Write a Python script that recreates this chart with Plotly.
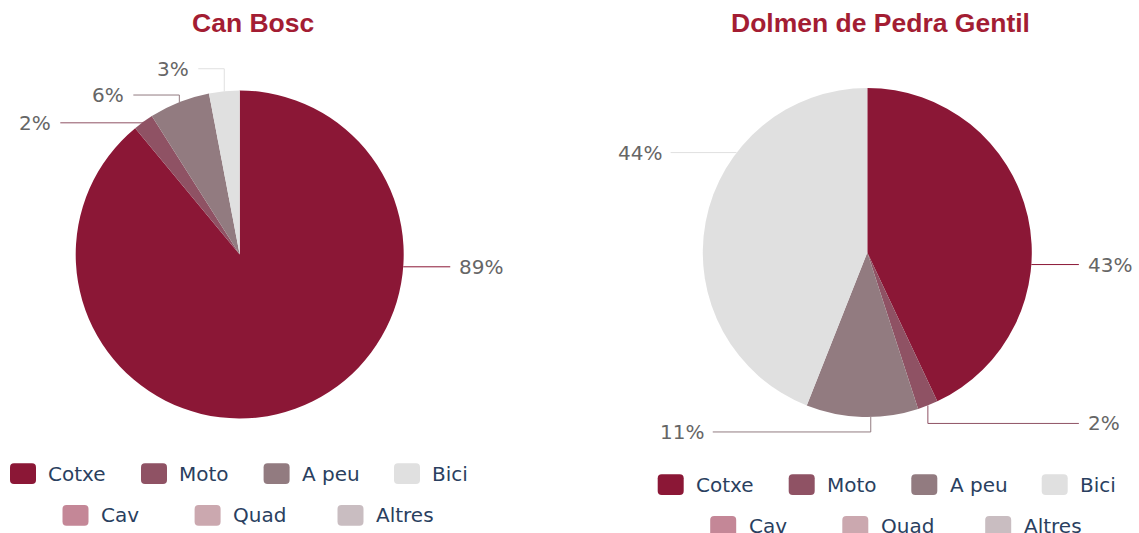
import math
import plotly.graph_objects as go

W, H = 1139, 533

# ---------------- data ----------------
categories = ["Cotxe", "Moto", "A peu", "Bici", "Cav", "Quad", "Altres"]
can_bosc = [89, 2, 6, 3, 0, 0, 0]
dolmen = [43, 2, 11, 44, 0, 0, 0]
titles = ["Can Bosc", "Dolmen de Pedra Gentil"]

# ---------------- style ----------------
colors = ["#8b1736", "#8f5264", "#927b80", "#e0e0e0", "#c48797", "#cba8af", "#c9bdc1"]
title_color = "#a31d33"
label_color = "#666666"
legend_color = "#2a3f5f"
label_font = "Verdana, DejaVu Sans, sans-serif"
title_font = "Arial, Liberation Sans, sans-serif"

# geometry (pixels) for each pie panel; label specs per slice:
# (anchor angle override or None -> slice mid angle, vertical offset,
#  signed horizontal length: + goes right, - goes left)
panels = [
    dict(values=can_bosc, title=titles[0], cx=239.7, cy=254.5, r=164.0,
         title_x=253, title_y=23, leg_x=10, leg_y=463.3,
         specs={0: (94.3, 0, 47), 1: (None, 1, -83), 2: (None, -7, -46), 3: (None, -22.5, -26)}),
    dict(values=dolmen, title=titles[1], cx=867.3, cy=252.5, r=164.5,
         title_x=880.7, title_y=23, leg_x=657.7, leg_y=474.3,
         specs={0: (94.2, 0, 47.5), 1: (None, 18, 151), 2: (178.8, 15, -158), 3: (307.4, 0, -66)}),
]
leg_dx = [0, 131, 253.6, 384, 52.5, 184.6, 327.5]
leg_row = [0, 0, 0, 0, 1, 1, 1]
leg_row_gap = 41.8
sym_w, sym_h, sym_r = 26, 20.7, 4
text_off = 36.4
text_gap = 7

fig = go.Figure()
# hidden pixel-space cartesian axes for annotations / shapes
fig.add_trace(go.Scatter(x=[], y=[], showlegend=False, hoverinfo="skip"))

shapes = []
annotations = []


def pt(cx, cy, r, ang):
    a = math.radians(ang)
    return cx + r * math.sin(a), cy - r * math.cos(a)


def rrect(x, y, w, h, r):
    return (f"M{x+r},{y} H{x+w-r} Q{x+w},{y} {x+w},{y+r} V{y+h-r} Q{x+w},{y+h} {x+w-r},{y+h} "
            f"H{x+r} Q{x},{y+h} {x},{y+h-r} V{y+r} Q{x},{y} {x+r},{y} Z")


for p in panels:
    cx, cy, r = p["cx"], p["cy"], p["r"]
    vals = p["values"]
    fig.add_trace(go.Pie(
        labels=categories, values=vals, sort=False, direction="clockwise", rotation=0,
        marker=dict(colors=colors, line=dict(width=0)),
        textinfo="none", showlegend=False, hoverinfo="label+percent",
        domain=dict(x=[(cx - r) / W, (cx + r) / W], y=[1 - (cy + r) / H, 1 - (cy - r) / H]),
    ))
    total = sum(vals)
    cum = 0
    for i, v in enumerate(vals):
        a0 = cum / total * 360
        cum += v
        a1 = cum / total * 360
        if v == 0 or i not in p["specs"]:
            continue
        ang, dy, hl = p["specs"][i]
        if ang is None:
            ang = (a0 + a1) / 2
        px, py = pt(cx, cy, r, ang)
        bx, by = px, py + dy
        side = 1 if hl > 0 else -1
        ex = bx + hl
        shapes.append(dict(type="path", xref="x", yref="y", layer="above",
                           path=f"M{px},{py} L{bx},{by} L{ex},{by}",
                           line=dict(color=colors[i], width=1)))
        annotations.append(dict(
            x=ex + side * text_gap, y=by, xref="x", yref="y", showarrow=False,
            text=f"{round(v / total * 100)}%", xanchor="left" if side > 0 else "right",
            yanchor="middle", font=dict(family=label_font, size=20, color=label_color)))
    annotations.append(dict(
        x=p["title_x"], y=p["title_y"], xref="x", yref="y", showarrow=False,
        text=f"<b>{p['title']}</b>", xanchor="center", yanchor="middle",
        font=dict(family=title_font, size=26.5, color=title_color)))
    for k, name in enumerate(categories):
        sx = p["leg_x"] + leg_dx[k]
        sy = p["leg_y"] + leg_row[k] * leg_row_gap
        shapes.append(dict(type="path", xref="x", yref="y", layer="above",
                           path=rrect(sx, sy, sym_w, sym_h, sym_r),
                           fillcolor=colors[k], line=dict(width=0)))
        annotations.append(dict(
            x=sx + text_off, y=sy + sym_h / 2, xref="x", yref="y", showarrow=False,
            text=name, xanchor="left", yanchor="middle",
            font=dict(family=label_font, size=20, color=legend_color)))

fig.update_layout(
    width=W, height=H, autosize=False,
    margin=dict(l=0, r=0, t=0, b=0, pad=0),
    paper_bgcolor="white", plot_bgcolor="rgba(0,0,0,0)",
    xaxis=dict(range=[0, W], visible=False, fixedrange=True, domain=[0, 1]),
    yaxis=dict(range=[H, 0], visible=False, fixedrange=True, domain=[0, 1]),
    shapes=shapes, annotations=annotations, showlegend=False,
)

fig.write_html("out.html", config={"displayModeBar": False},
               post_script="document.body.style.margin='0';document.body.style.overflow='hidden';")
